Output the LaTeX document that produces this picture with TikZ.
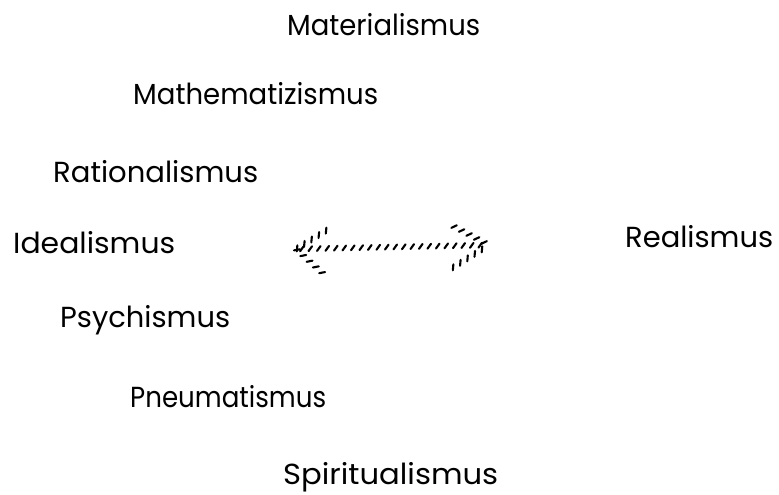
\documentclass[tikz,border=0pt]{standalone}
\usepackage{fontspec}
\setmainfont{Poppins}
\usetikzlibrary{decorations.markings}
\newcommand{\fitw}[2]{\resizebox{#1}{\height}{#2}}
\tikzset{
  word/.style={anchor=base west, inner sep=0pt, font=\fontsize{29}{32}\selectfont},
  hatch/.style={decorate, decoration={markings,
     mark=between positions 0.03 and 0.99 step 8.5pt with
       {\draw[line width=2.1pt, black, line cap=round] (-1.8pt,-2.4pt) -- (1.8pt,2.4pt);}}}
}
\begin{document}
\begin{tikzpicture}[x=1pt,y=1pt]
\useasboundingbox (0,0) rectangle (779,-495);
\node[word] (mat) at (287,-36) {\fitw{193pt}{Materialismus}};
\node[word] (math) at (133,-104) {\fitw{245pt}{Mathematizismus}};
\node[word] (rat) at (53,-182) {\fitw{205pt}{Rationalismus}};
\node[word] (ide) at (13,-253) {\fitw{162pt}{Idealismus}};
\node[word] (rea) at (625,-247) {\fitw{148pt}{Realismus}};
\node[word] (psy) at (60,-327) {\fitw{170pt}{Psychismus}};
\node[word] (pne) at (130,-407) {\fitw{196pt}{Pneumatismus}};
\node[word] (spi) at (283,-484) {\fitw{215pt}{Spiritualismus}};
% arrow
\coordinate (lt) at (296,-249);
\coordinate (rt) at (489,-245);
\coordinate (lu) at (332,-227);
\coordinate (ld) at (327,-277);
\coordinate (ru) at (453,-226);
\coordinate (rd) at (452,-268);
\draw[hatch] (lt) -- (rt);
\draw[hatch] (lt) -- (lu);
\draw[hatch] (lt) -- (ld);
\draw[hatch] (ru) -- (rt);
\draw[hatch] (rd) -- (rt);
\end{tikzpicture}
\end{document}
